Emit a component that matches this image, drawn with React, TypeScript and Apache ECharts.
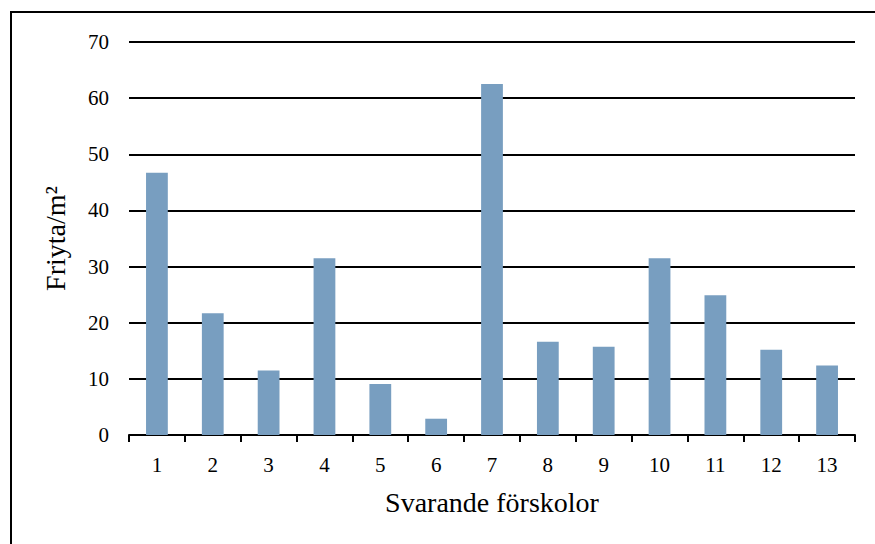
import React, { useEffect, useRef } from "react";
import * as echarts from "echarts";

const categories = ["1", "2", "3", "4", "5", "6", "7", "8", "9", "10", "11", "12", "13"];
const values = [46.7, 21.7, 11.5, 31.5, 9.1, 2.9, 62.5, 16.6, 15.7, 31.5, 24.9, 15.2, 12.4];
const yAxisName = "Friyta/m²";
const xAxisName = "Svarande förskolor";

const FONT = "'Liberation Serif', 'Times New Roman', serif";

export default function App() {
  const ref = useRef<HTMLDivElement>(null);
  useEffect(() => {
    if (!ref.current) return;
    const chart = echarts.init(ref.current, undefined, { renderer: "svg" });
    chart.setOption({
      animation: false,
      backgroundColor: "#ffffff",
      graphic: [
        {
          type: "rect",
          shape: { x: 11, y: 12, width: 900, height: 600 },
          style: { fill: "none", stroke: "#000", lineWidth: 2 },
          silent: true,
        },
      ],
      grid: { left: 129, right: 20, top: 42, bottom: 109, containLabel: false },
      xAxis: {
        type: "category",
        data: categories,
        name: xAxisName,
        nameLocation: "middle",
        nameGap: 53,
        nameTextStyle: { fontFamily: FONT, fontSize: 28, color: "#000" },
        axisLine: { lineStyle: { color: "#000", width: 2 } },
        axisTick: { show: true, alignWithLabel: false, length: 7, lineStyle: { color: "#000", width: 2 } },
        axisLabel: { fontFamily: FONT, fontSize: 21, color: "#000", margin: 19 },
      },
      yAxis: {
        type: "value",
        min: 0,
        max: 70,
        interval: 10,
        name: yAxisName,
        nameLocation: "middle",
        nameGap: 60,
        nameTextStyle: { fontFamily: FONT, fontSize: 28, color: "#000" },
        axisLine: { show: false },
        axisTick: { show: false },
        axisLabel: { fontFamily: FONT, fontSize: 21, color: "#000", margin: 20 },
        splitLine: { show: true, lineStyle: { color: "#000", width: 2 } },
      },
      series: [
        {
          type: "bar",
          data: values,
          barWidth: "39%",
          itemStyle: { color: "#789EC0" },
        },
      ],
    });
    return () => chart.dispose();
  }, []);
  return (
    <div
      ref={ref}
      style={{ position: "fixed", left: 0, top: 0, width: 875, height: 544 }}
    />
  );
}
